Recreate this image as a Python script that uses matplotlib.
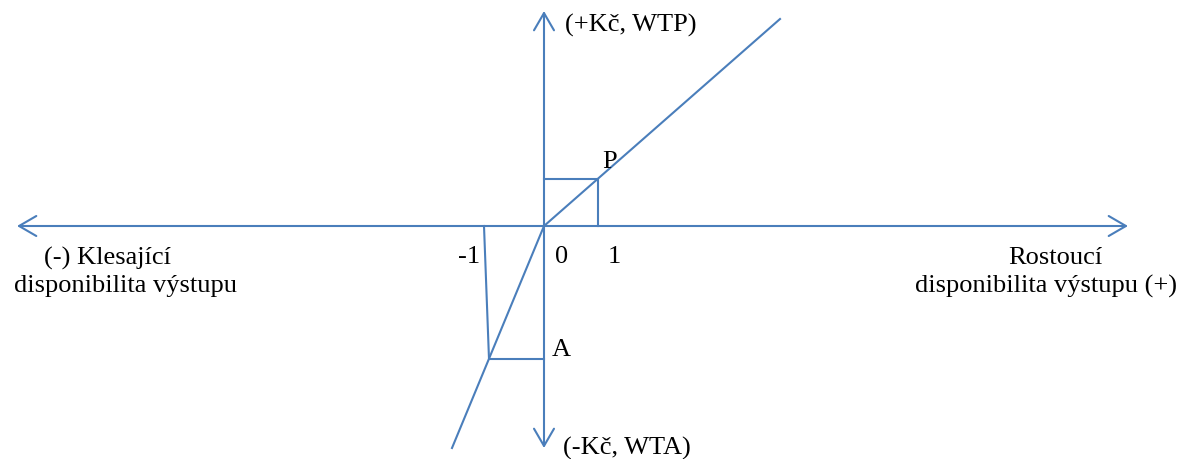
"""
Schéma WTP / WTA - rekonstrukce diagramu
"""
import matplotlib
matplotlib.use('Agg')
import matplotlib.pyplot as plt

matplotlib.rcParams['font.family'] = ['Liberation Serif', 'DejaVu Serif']
matplotlib.rcParams['font.size'] = 19

BLUE = '#4A7EBB'

# souřadnice v pixelech vůči průsečíku os (x doprava, y nahoru)
x_axis = [-527, 584]
y_axis = [-222, 215]

curve_x = [-92, 0, 236]
curve_y = [-222, 0, 207]

box_p_x = [0, 54, 54]
box_p_y = [47, 47, 0]

box_a_x = [0, -55, -60]
box_a_y = [-133, -133, 0]

tick_labels = ['-1', '0', '1']
tick_x = [-75, 18, 70]

point_labels = ['P', 'A']
point_x = [66, 17]
point_y = [65, -123]

fig = plt.figure(figsize=(11.84, 4.6), dpi=100)
ax = fig.add_axes([0, 0, 1, 1])
ax.set_xlim(-544, 640)
ax.set_ylim(-233, 227)
ax.axis('off')

arrow = dict(arrowstyle='<->, head_length=0.62, head_width=0.36',
             color=BLUE, lw=1.5, shrinkA=0, shrinkB=0, mutation_scale=20)
ax.annotate('', xy=(x_axis[0], 0), xytext=(x_axis[1], 0), arrowprops=arrow)
ax.annotate('', xy=(0, y_axis[0]), xytext=(0, y_axis[1]), arrowprops=arrow)

ax.plot(curve_x, curve_y, color=BLUE, lw=1.5)
ax.plot(box_p_x, box_p_y, color=BLUE, lw=1.5)
ax.plot(box_a_x, box_a_y, color=BLUE, lw=1.5)

for lab, tx in zip(tick_labels, tick_x):
    ax.text(tx, -30, lab, ha='center', va='center')
for lab, px, py in zip(point_labels, point_x, point_y):
    ax.text(px, py, lab, ha='center', va='center')

ax.text(21, 202, '(+Kč, WTP)', ha='left', va='center')
ax.text(19, -221, '(-Kč, WTA)', ha='left', va='center')

# popisky os (dva řádky, každý zarovnán zvlášť)
ax.text(-436, -31, '(-) Klesající', ha='center', va='center')
ax.text(-419, -59, 'disponibilita výstupu', ha='center', va='center')
ax.text(511, -31, 'Rostoucí', ha='center', va='center')
ax.text(502, -59, 'disponibilita výstupu (+)', ha='center', va='center')

plt.savefig('out.png', dpi=100)
plt.close()
